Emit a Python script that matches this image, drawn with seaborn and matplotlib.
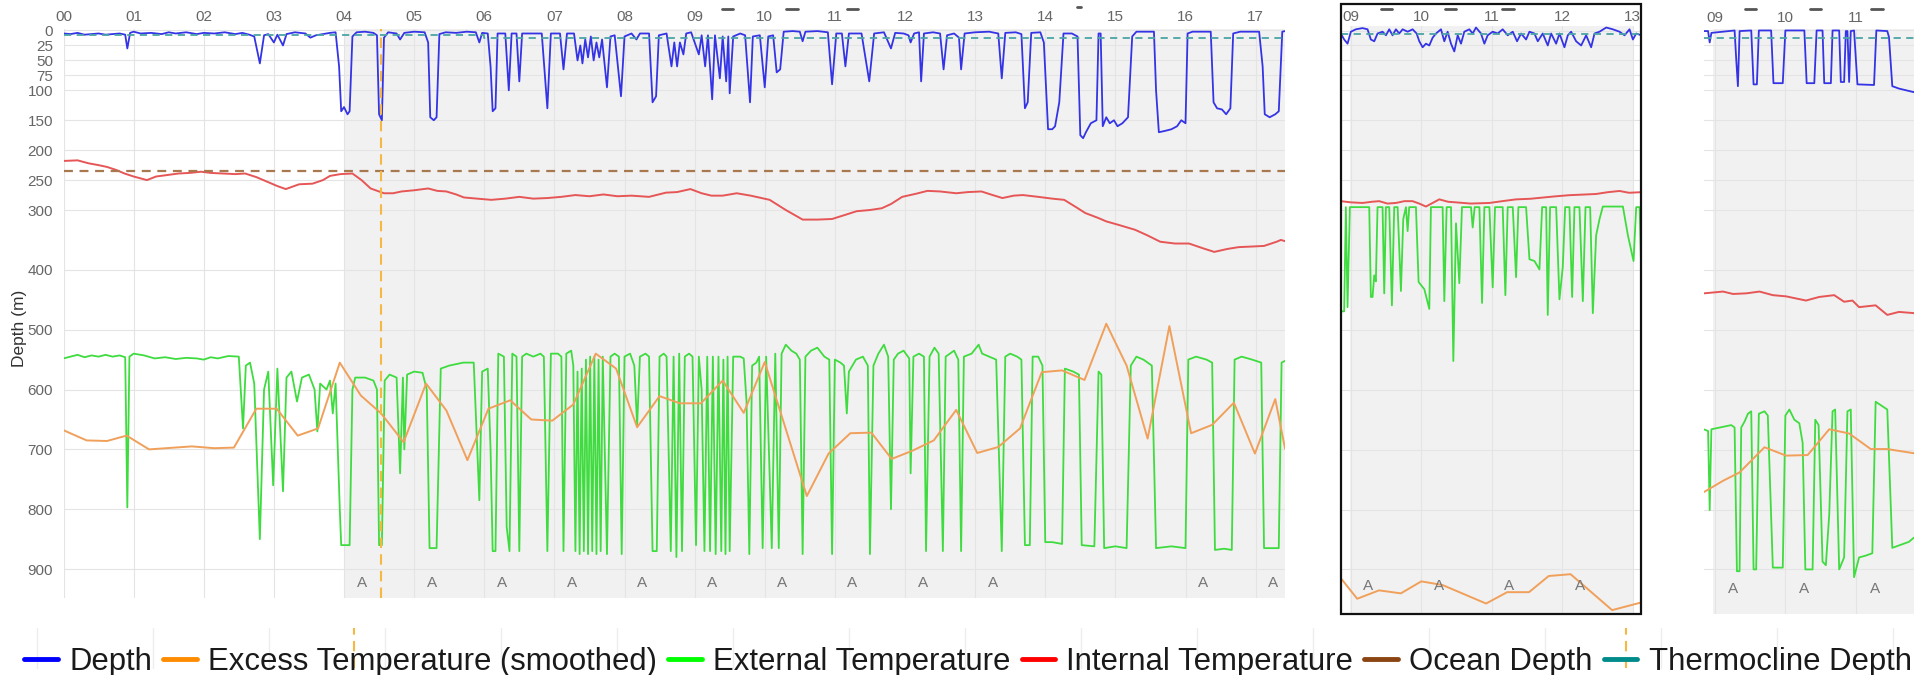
import matplotlib
matplotlib.use('Agg')
import matplotlib.pyplot as plt
import matplotlib.transforms as mtransforms
from matplotlib.lines import Line2D
from matplotlib.patches import Rectangle
import seaborn as sns

sns.set_style('white')
plt.rcParams['font.family'] = ['Liberation Sans', 'DejaVu Sans']

#%% Data (x = hour of day, y = value on the depth scale in m)
depth_ticks = [0, 25, 50, 75, 100, 150, 200, 250, 300, 400, 500, 600, 700, 800, 900]

# main panel
main_depth = [
    (0.00, 5), (0.10, 6), (0.20, 4), (0.30, 7), (0.40, 6), (0.50, 5), (0.60, 7), (0.70, 6),
    (0.80, 5), (0.88, 7), (0.91, 30), (0.95, 4), (1.00, 2), (1.10, 5), (1.25, 4), (1.40, 6),
    (1.50, 3), (1.60, 5), (1.75, 3), (1.90, 6), (2.00, 4), (2.15, 5), (2.30, 3), (2.45, 6),
    (2.55, 4), (2.65, 7), (2.72, 10), (2.80, 55), (2.86, 8), (2.92, 6), (3.00, 20), (3.05, 7),
    (3.13, 25), (3.18, 6), (3.30, 3), (3.45, 5), (3.52, 12), (3.60, 8), (3.70, 6), (3.80, 4),
    (3.88, 3), (3.93, 60), (3.96, 135), (4.00, 128), (4.05, 140), (4.08, 135), (4.12, 10),
    (4.18, 3), (4.30, 2), (4.42, 4), (4.47, 8), (4.50, 140), (4.54, 150), (4.57, 12), (4.63, 3),
    (4.75, 5), (4.80, 15), (4.86, 4), (5.00, 2), (5.15, 3), (5.20, 20), (5.23, 145), (5.28, 150),
    (5.32, 145), (5.36, 6), (5.45, 3), (5.60, 4), (5.75, 2), (5.88, 3), (5.93, 20), (5.97, 4),
    (6.05, 5), (6.09, 60), (6.12, 135), (6.16, 130), (6.19, 5), (6.30, 5), (6.35, 100), (6.39, 5),
    (6.46, 5), (6.50, 85), (6.54, 5), (6.70, 5), (6.82, 5), (6.90, 130), (6.95, 5), (7.08, 5),
    (7.13, 65), (7.18, 5), (7.28, 5), (7.33, 50), (7.37, 25), (7.40, 55), (7.44, 15), (7.48, 45),
    (7.52, 10), (7.56, 50), (7.60, 20), (7.64, 45), (7.68, 15), (7.75, 95), (7.80, 10), (7.86, 8),
    (7.95, 110), (8.00, 10), (8.10, 5), (8.17, 15), (8.22, 5), (8.35, 5), (8.40, 120), (8.45, 110),
    (8.49, 8), (8.60, 5), (8.67, 60), (8.71, 20), (8.75, 60), (8.79, 20), (8.84, 40), (8.88, 5),
    (8.95, 3), (9.06, 40), (9.10, 8), (9.15, 60), (9.19, 8), (9.25, 115), (9.29, 8), (9.36, 80),
    (9.40, 10), (9.45, 85), (9.48, 10), (9.50, 105), (9.55, 10), (9.65, 5), (9.72, 8), (9.79, 120),
    (9.83, 10), (9.93, 8), (10.00, 95), (10.05, 10), (10.12, 8), (10.17, 70), (10.22, 65),
    (10.27, 2), (10.40, 1), (10.50, 2), (10.54, 18), (10.58, 2), (10.75, 1), (10.90, 3),
    (10.96, 90), (11.02, 5), (11.10, 5), (11.15, 60), (11.20, 5), (11.38, 5), (11.49, 85),
    (11.56, 5), (11.70, 3), (11.80, 30), (11.86, 4), (11.98, 5), (12.05, 8), (12.08, 20),
    (12.13, 5), (12.20, 3), (12.23, 85), (12.27, 5), (12.40, 3), (12.50, 5), (12.55, 65),
    (12.60, 8), (12.70, 5), (12.77, 12), (12.80, 65), (12.85, 5), (13.00, 3), (13.20, 2),
    (13.33, 5), (13.38, 80), (13.43, 4), (13.58, 3), (13.66, 6), (13.71, 130), (13.75, 120),
    (13.80, 4), (13.93, 3), (13.98, 20), (14.04, 165), (14.10, 165), (14.14, 160), (14.20, 120),
    (14.26, 5), (14.38, 5), (14.46, 10), (14.50, 175), (14.54, 180), (14.58, 170), (14.65, 155),
    (14.73, 150), (14.76, 5), (14.79, 5), (14.82, 160), (14.87, 145), (14.92, 155), (14.98, 150),
    (15.03, 160), (15.10, 155), (15.18, 145), (15.24, 10), (15.30, 2), (15.55, 2), (15.58, 100),
    (15.62, 170), (15.70, 168), (15.80, 165), (15.88, 160), (15.94, 150), (16.00, 155),
    (16.03, 5), (16.10, 2), (16.36, 2), (16.40, 120), (16.45, 130), (16.52, 132), (16.58, 140),
    (16.64, 130), (16.68, 5), (16.78, 2), (17.05, 2), (17.10, 60), (17.13, 140), (17.20, 145),
    (17.28, 140), (17.33, 135), (17.38, 2), (17.42, 1),
]
main_external = [
    (0.00, 548), (0.10, 545), (0.20, 542), (0.30, 546), (0.40, 543), (0.50, 545), (0.60, 542),
    (0.70, 545), (0.80, 543), (0.88, 546), (0.91, 797), (0.94, 545), (1.00, 540), (1.15, 543),
    (1.30, 548), (1.45, 546), (1.60, 549), (1.75, 547), (1.90, 548), (2.00, 550), (2.10, 546),
    (2.20, 548), (2.35, 544), (2.50, 545), (2.56, 665), (2.60, 560), (2.66, 555), (2.72, 590),
    (2.80, 850), (2.86, 600), (2.92, 570), (2.99, 760), (3.05, 565), (3.13, 770), (3.18, 580),
    (3.25, 570), (3.33, 620), (3.40, 580), (3.50, 575), (3.58, 600), (3.62, 670), (3.66, 590),
    (3.75, 600), (3.80, 585), (3.84, 640), (3.88, 590), (3.94, 800), (3.96, 860), (4.08, 860),
    (4.12, 600), (4.16, 580), (4.30, 580), (4.42, 585), (4.47, 600), (4.50, 860), (4.54, 860),
    (4.58, 585), (4.65, 575), (4.75, 580), (4.80, 740), (4.84, 580), (4.86, 700), (4.90, 575),
    (5.00, 570), (5.12, 572), (5.18, 600), (5.22, 865), (5.32, 865), (5.38, 565), (5.50, 560),
    (5.70, 555), (5.85, 555), (5.93, 785), (5.97, 570), (6.05, 565), (6.09, 700), (6.12, 870),
    (6.16, 870), (6.20, 540), (6.28, 545), (6.32, 830), (6.36, 870), (6.40, 540), (6.46, 545),
    (6.50, 870), (6.54, 545), (6.60, 540), (6.70, 545), (6.80, 540), (6.85, 545), (6.90, 870),
    (6.95, 540), (7.05, 540), (7.10, 545), (7.13, 870), (7.17, 540), (7.24, 535), (7.27, 560),
    (7.30, 870), (7.33, 570), (7.36, 875), (7.39, 565), (7.42, 870), (7.45, 550), (7.48, 875),
    (7.51, 545), (7.54, 870), (7.57, 545), (7.60, 875), (7.63, 550), (7.66, 870), (7.69, 545),
    (7.75, 875), (7.80, 545), (7.86, 540), (7.92, 545), (7.96, 875), (8.00, 545), (8.08, 540),
    (8.14, 560), (8.18, 660), (8.22, 545), (8.30, 540), (8.35, 545), (8.40, 870), (8.46, 870),
    (8.50, 545), (8.56, 540), (8.60, 545), (8.66, 870), (8.70, 545), (8.74, 880), (8.78, 540),
    (8.82, 870), (8.86, 545), (8.92, 540), (8.97, 545), (9.02, 860), (9.06, 545), (9.10, 600),
    (9.14, 870), (9.18, 545), (9.22, 870), (9.26, 545), (9.30, 875), (9.34, 545), (9.38, 870),
    (9.41, 550), (9.44, 875), (9.47, 545), (9.50, 870), (9.55, 545), (9.65, 545), (9.70, 548),
    (9.74, 620), (9.78, 875), (9.82, 560), (9.88, 555), (9.92, 545), (9.97, 865), (10.02, 545),
    (10.10, 865), (10.15, 540), (10.20, 865), (10.24, 540), (10.30, 525), (10.38, 535),
    (10.45, 540), (10.50, 550), (10.54, 875), (10.58, 545), (10.66, 535), (10.75, 530),
    (10.85, 545), (10.92, 550), (10.96, 875), (11.00, 550), (11.08, 555), (11.13, 560),
    (11.17, 640), (11.20, 570), (11.30, 550), (11.40, 545), (11.47, 560), (11.50, 875),
    (11.55, 560), (11.62, 540), (11.70, 525), (11.76, 545), (11.80, 800), (11.84, 550),
    (11.90, 540), (11.98, 535), (12.06, 548), (12.08, 740), (12.12, 545), (12.20, 540),
    (12.27, 545), (12.30, 870), (12.35, 545), (12.42, 530), (12.48, 540), (12.54, 870),
    (12.58, 545), (12.70, 535), (12.76, 550), (12.80, 870), (12.84, 545), (12.95, 540),
    (13.05, 525), (13.10, 540), (13.20, 545), (13.30, 550), (13.38, 870), (13.43, 545),
    (13.50, 540), (13.60, 545), (13.66, 550), (13.71, 860), (13.78, 860), (13.82, 545),
    (13.90, 545), (13.96, 560), (14.00, 855), (14.10, 855), (14.24, 858), (14.28, 565),
    (14.40, 570), (14.48, 575), (14.52, 860), (14.70, 862), (14.76, 570), (14.80, 575),
    (14.84, 865), (15.00, 862), (15.16, 865), (15.22, 560), (15.30, 545), (15.40, 550),
    (15.52, 560), (15.58, 865), (15.80, 862), (16.00, 865), (16.04, 550), (16.15, 545),
    (16.30, 550), (16.38, 555), (16.42, 868), (16.55, 866), (16.66, 868), (16.70, 550),
    (16.80, 545), (16.95, 550), (17.08, 555), (17.12, 865), (17.25, 865), (17.33, 865),
    (17.37, 555), (17.42, 552),
]
main_internal = [
    (0.0, 218), (0.2, 217), (0.36, 222), (0.5, 225), (0.62, 228), (0.75, 233), (0.87, 239),
    (1.0, 244), (1.19, 250), (1.32, 244), (1.45, 242), (1.64, 239), (1.8, 238), (1.96, 236),
    (2.1, 238), (2.27, 239), (2.45, 240), (2.59, 239), (2.75, 245), (2.91, 253), (3.05, 260),
    (3.17, 265), (3.36, 257), (3.55, 256), (3.7, 250), (3.8, 243), (3.95, 240), (4.12, 239),
    (4.25, 250), (4.38, 264), (4.57, 272), (4.7, 272), (4.82, 269), (5.0, 267), (5.2, 264),
    (5.33, 268), (5.46, 269), (5.6, 274), (5.71, 279), (5.9, 281), (6.1, 283), (6.3, 281),
    (6.5, 278), (6.7, 281), (6.9, 280), (7.1, 278), (7.3, 275), (7.5, 277), (7.7, 274),
    (7.9, 277), (8.1, 276), (8.35, 278), (8.59, 271), (8.75, 270), (8.94, 265), (9.1, 272),
    (9.24, 276), (9.4, 276), (9.6, 272), (9.8, 276), (10.07, 283), (10.3, 300), (10.54, 316),
    (10.75, 316), (10.96, 315), (11.15, 308), (11.31, 302), (11.5, 300), (11.67, 297),
    (11.8, 290), (11.96, 278), (12.15, 273), (12.32, 268), (12.5, 269), (12.73, 272),
    (12.9, 270), (13.09, 269), (13.25, 275), (13.39, 280), (13.55, 276), (13.68, 275),
    (13.9, 278), (14.1, 281), (14.27, 283), (14.45, 296), (14.57, 305), (14.75, 313),
    (14.87, 319), (15.05, 325), (15.28, 333), (15.45, 342), (15.64, 353), (15.85, 356),
    (16.05, 356), (16.25, 364), (16.41, 370), (16.6, 365), (16.76, 362), (16.95, 361),
    (17.12, 360), (17.3, 353), (17.36, 350), (17.42, 352),
]
main_excess = [
    (0.0, 668), (0.33, 685), (0.62, 686), (0.9, 677), (1.22, 700), (1.83, 695), (2.15, 698),
    (2.43, 697), (2.75, 632), (3.04, 632), (3.34, 677), (3.63, 665), (3.94, 555), (4.24, 610),
    (4.53, 640), (4.85, 688), (5.17, 590), (5.46, 635), (5.76, 718), (6.06, 632), (6.37, 618),
    (6.67, 650), (6.97, 652), (7.27, 625), (7.59, 540), (7.88, 565), (8.18, 663), (8.5, 611),
    (8.79, 623), (9.09, 623), (9.4, 585), (9.7, 639), (10.0, 554), (10.6, 778), (10.91, 707),
    (11.22, 673), (11.52, 672), (11.81, 716), (12.11, 702), (12.41, 685), (12.73, 634),
    (13.03, 706), (13.33, 696), (13.64, 665), (13.95, 571), (14.24, 568), (14.56, 584),
    (14.87, 490), (15.16, 560), (15.46, 682), (15.77, 494), (16.08, 673), (16.38, 659),
    (16.69, 622), (16.99, 707), (17.28, 616), (17.42, 699),
]
main_thermocline = [(0.0, 7), (6.0, 7), (6.0, 12), (17.42, 12)]
main_ocean = [(0.0, 235), (17.42, 235)]
main_event_hour = 4.53
main_shade_start = 4.0
main_a_hours = [4.25, 5.25, 6.25, 7.25, 8.25, 9.25, 10.25, 11.25, 12.25, 13.25, 16.25, 17.25]

# middle (framed) panel
mid_depth = [
    (8.858, 5), (8.905, 15), (8.953, 22), (9.0, 2), (9.071, -2), (9.166, -4), (9.237, -2),
    (9.284, 15), (9.332, 18), (9.379, 5), (9.45, 2), (9.498, 8), (9.545, -2), (9.592, 8),
    (9.64, -2), (9.687, 5), (9.735, -2), (9.806, 2), (9.877, -2), (9.934, 5), (9.972, 18),
    (10.019, 28), (10.066, 22), (10.114, 25), (10.161, 12), (10.209, 5), (10.28, -2),
    (10.327, 18), (10.374, 2), (10.422, 22), (10.469, 35), (10.517, 8), (10.564, 22),
    (10.611, 2), (10.682, -2), (10.73, 5), (10.777, -5), (10.848, 5), (10.896, 22),
    (10.943, 8), (11.014, 2), (11.085, 5), (11.156, -2), (11.227, 8), (11.299, 2),
    (11.36, 18), (11.417, 5), (11.488, 15), (11.536, 2), (11.607, 5), (11.654, 18),
    (11.725, 5), (11.796, 25), (11.844, 5), (11.915, 22), (11.962, 5), (12.033, 28),
    (12.081, 8), (12.128, 2), (12.199, 18), (12.27, 25), (12.341, 8), (12.412, 28),
    (12.46, 5), (12.531, 2), (12.626, -5), (12.72, -2), (12.815, 2), (12.886, 8),
    (12.957, -2), (13.005, 15), (13.052, 5), (13.123, 8),
]
mid_external = [
    (8.858, 469), (8.905, 469), (8.929, 295), (8.953, 462), (8.986, 295), (9.261, 295),
    (9.284, 445), (9.308, 445), (9.332, 409), (9.355, 419), (9.379, 295), (9.45, 295),
    (9.474, 439), (9.498, 295), (9.545, 295), (9.583, 459), (9.616, 295), (9.664, 295),
    (9.711, 435), (9.744, 315), (9.782, 295), (9.806, 335), (9.829, 295), (9.924, 295),
    (9.962, 420), (10.043, 432), (10.114, 465), (10.137, 295), (10.303, 295), (10.327, 452),
    (10.36, 295), (10.422, 295), (10.455, 552), (10.493, 322), (10.54, 422), (10.578, 295),
    (10.706, 295), (10.73, 329), (10.758, 295), (10.825, 295), (10.863, 455), (10.896, 295),
    (10.967, 295), (11.014, 429), (11.047, 295), (11.156, 295), (11.194, 442), (11.227, 295),
    (11.299, 295), (11.346, 412), (11.379, 295), (11.488, 295), (11.536, 382), (11.607, 385),
    (11.678, 399), (11.716, 295), (11.773, 295), (11.796, 475), (11.829, 295), (11.915, 295),
    (11.962, 449), (12.009, 395), (12.043, 295), (12.104, 295), (12.142, 445), (12.175, 295),
    (12.246, 295), (12.294, 452), (12.332, 295), (12.398, 295), (12.436, 472), (12.483, 342),
    (12.531, 315), (12.578, 294), (12.863, 294), (12.934, 342), (13.014, 385), (13.052, 295),
    (13.1, 295), (13.123, 402),
]
mid_internal = [
    (8.858, 285), (9.0, 287), (9.166, 288), (9.3, 286), (9.403, 285), (9.52, 289), (9.64, 288),
    (9.76, 285), (9.877, 285), (9.97, 289), (10.066, 294), (10.256, 282), (10.38, 286),
    (10.493, 287), (10.7, 289), (10.967, 288), (11.15, 285), (11.346, 282), (11.55, 281),
    (11.725, 279), (11.9, 277), (12.104, 275), (12.3, 274), (12.483, 273), (12.65, 270),
    (12.815, 268), (12.95, 271), (13.123, 270),
]
mid_excess = [
    (8.86, 915), (9.09, 949), (9.4, 935), (9.71, 940), (10.0, 920), (10.3, 926), (10.92, 957),
    (11.22, 938), (11.53, 938), (11.81, 911), (12.12, 908), (12.71, 968), (13.13, 955),
]
mid_thermocline = [(8.86, 6), (13.12, 6)]
mid_shade = (8.99, 13.0)
mid_a_hours = [9.25, 10.25, 11.25, 12.25]

# right (cut-off) panel
right_depth = [
    (8.845, 1), (8.906, 1), (8.929, 20), (8.953, 4), (9.282, 0), (9.306, 50), (9.329, 93),
    (9.353, 1), (9.518, 0), (9.551, 90), (9.598, 90), (9.626, 0), (9.8, 0), (9.833, 88),
    (9.965, 88), (10.002, 0), (10.271, 0), (10.304, 88), (10.412, 88), (10.445, 0),
    (10.529, 0), (10.553, 88), (10.647, 88), (10.671, 0), (10.765, 0), (10.788, 86),
    (10.835, 86), (10.859, 1), (10.882, 1), (10.906, 86), (10.929, 1), (10.976, 0),
    (11.024, 90), (11.259, 91), (11.292, 0), (11.447, 1), (11.471, 11), (11.518, 93),
    (11.612, 97), (11.824, 103), (11.86, 104),
]
right_external = [
    (8.845, 666), (8.906, 669), (8.929, 801), (8.953, 666), (9.235, 659), (9.282, 663),
    (9.315, 903), (9.353, 903), (9.376, 663), (9.424, 653), (9.471, 640), (9.518, 636),
    (9.551, 900), (9.588, 900), (9.626, 640), (9.706, 636), (9.753, 643), (9.824, 897),
    (9.965, 897), (10.002, 643), (10.059, 633), (10.129, 650), (10.2, 656), (10.247, 689),
    (10.285, 900), (10.388, 900), (10.426, 650), (10.473, 659), (10.529, 887), (10.576, 893),
    (10.624, 808), (10.671, 636), (10.708, 633), (10.765, 900), (10.835, 880), (10.882, 636),
    (10.929, 633), (10.976, 913), (11.047, 880), (11.141, 877), (11.235, 873), (11.282, 620),
    (11.447, 633), (11.518, 864), (11.753, 854), (11.824, 847), (11.86, 846),
]
right_internal = [
    (8.845, 439), (9.118, 436), (9.259, 440), (9.447, 439), (9.635, 436), (9.824, 442),
    (10.012, 444), (10.294, 451), (10.482, 445), (10.694, 442), (10.835, 453), (10.953, 451),
    (11.047, 462), (11.282, 459), (11.447, 475), (11.612, 470), (11.824, 472), (11.86, 472),
]
right_excess = [
    (8.845, 771), (9.118, 752), (9.353, 738), (9.706, 696), (10.012, 710), (10.318, 709),
    (10.624, 666), (10.906, 673), (11.212, 699), (11.447, 699), (11.824, 706), (11.86, 706),
]
right_thermocline = [(8.845, 13), (11.86, 13)]
right_shade_start = 8.98
right_a_hours = [9.26, 10.26, 11.27]

legend_labels = ['Depth', 'Excess Temperature (smoothed)', 'External Temperature',
                 'Internal Temperature', 'Ocean Depth', 'Thermocline Depth']
legend_colors = ['#0000ff', '#ff8c00', '#00ff00', '#ff0000', '#8b4513', '#008b8b']

# stray marks from the screenshot
main_top_marks = [9.47, 10.39, 11.25]
mid_top_marks = [9.51, 10.41, 11.23]
right_top_marks = [9.51, 10.43, 11.30]

#%% Styling
C_DEPTH = '#3434e6'
C_EXT = '#3fdc3f'
C_INT = '#e65656'
C_EXC = '#f0a05a'
C_THERMO = '#4aa5a5'
C_OCEAN = '#a8784f'
GRID = '#e4e4e4'
SHADE = '#f1f1f1'
TICK = '#666666'


def draw(ax, pts, color, lw=1.3, alpha=1.0, ls='-'):
    xs = [p[0] for p in pts]
    ys = [p[1] for p in pts]
    sns.lineplot(x=xs, y=ys, ax=ax, color=color, lw=lw, alpha=alpha, linestyle=ls,
                 estimator=None, sort=False, legend=False)


def style_axes(ax, xlim, ylim, hours, labelleft=False, pad=4):
    ax.set_xlim(*xlim)
    ax.set_ylim(*ylim)
    ax.xaxis.tick_top()
    ax.set_xticks(hours)
    ax.set_xticklabels(['%02d' % h for h in hours])
    ax.set_yticks(depth_ticks)
    ax.set_yticklabels([str(t) for t in depth_ticks])
    ax.tick_params(axis='both', length=0, colors=TICK, labelsize=11)
    ax.tick_params(axis='x', pad=pad)
    ax.tick_params(axis='y', pad=7.5, labelleft=labelleft)
    ax.set_axisbelow(True)
    ax.grid(True, color=GRID, lw=0.8)
    for s in ax.spines.values():
        s.set_visible(False)
    ax.set_xlabel('')
    ax.set_ylabel('')


def top_marks(ax, hours, yfrac, half=0.08):
    tr = mtransforms.blended_transform_factory(ax.transData, ax.transAxes)
    for h in hours:
        ax.plot([h - half, h + half], [yfrac, yfrac], color='#555555', lw=2,
                transform=tr, clip_on=False)


fig = plt.figure(figsize=(19.15, 6.75), dpi=100)
fig.patch.set_facecolor('white')

#%% Main panel
ax = fig.add_axes([0.03316, 0.1135, 0.6379, 0.8431])
ax.axvspan(main_shade_start, 17.42, color=SHADE, zorder=0, lw=0)
draw(ax, main_external, C_EXT, lw=1.3)
draw(ax, main_excess, C_EXC, lw=1.4)
draw(ax, main_internal, C_INT, lw=1.4)
draw(ax, main_depth, C_DEPTH, lw=1.3)
draw(ax, main_ocean, C_OCEAN, lw=1.6, ls=(0, (4, 3)))
draw(ax, main_thermocline, C_THERMO, lw=1.3, ls=(0, (4, 3)))
ax.axvline(main_event_hour, color='#f5b942', lw=1.5, ls=(0, (5, 3)))
for h in main_a_hours:
    ax.text(h, 924, 'A', ha='center', va='center', color='#777777', fontsize=11)
style_axes(ax, (0, 17.42), (949, -2), list(range(0, 18)), labelleft=True, pad=4)
ax.set_ylabel('Depth (m)', fontsize=12.5, color='#333333')
ax.yaxis.set_label_coords(-0.030, 0.475)
top_marks(ax, main_top_marks, 1.0357)
top_marks(ax, [14.48], 1.04, half=0.03)

#%% Middle panel
axm = fig.add_axes([0.70026, 0.0899, 0.15666, 0.8720])
axm.axvspan(mid_shade[0], mid_shade[1], color=SHADE, zorder=0, lw=0)
draw(axm, mid_external, C_EXT, lw=1.3)
draw(axm, mid_excess, C_EXC, lw=1.4)
draw(axm, mid_internal, C_INT, lw=1.4)
draw(axm, mid_depth, C_DEPTH, lw=1.3)
draw(axm, mid_thermocline, C_THERMO, lw=1.3, ls=(0, (4, 3)))
for h in mid_a_hours:
    axm.text(h, 927, 'A', ha='center', va='center', color='#777777', fontsize=11)
style_axes(axm, (8.86, 13.12), (975, -8), [9, 10, 11, 12, 13], pad=1)
top_marks(axm, mid_top_marks, 1.0284)
fig.add_artist(Rectangle((0.70026, 0.0899), 0.15666, 0.9046, transform=fig.transFigure,
                         fill=False, ec='#111111', lw=1.6))

#%% Right panel
axr = fig.add_axes([0.8897, 0.0899, 0.1103, 0.8676])
axr.axvspan(right_shade_start, 11.84, color=SHADE, zorder=0, lw=0)
draw(axr, right_external, C_EXT, lw=1.3)
draw(axr, right_excess, C_EXC, lw=1.4)
draw(axr, right_internal, C_INT, lw=1.4)
draw(axr, right_depth, C_DEPTH, lw=1.3)
draw(axr, right_thermocline, C_THERMO, lw=1.3, ls=(0, (4, 3)))
for h in right_a_hours:
    axr.text(h, 933, 'A', ha='center', va='center', color='#777777', fontsize=11)
style_axes(axr, (8.845, 11.84), (975, -3), [9, 10, 11], pad=3)
top_marks(axr, right_top_marks, 1.0336)

#%% Legend row
for k in range(17):
    x = (37 + 116 * k) / 1915
    fig.add_artist(Line2D([x, x], [0.0104, 0.0696], transform=fig.transFigure,
                          color='#eeeeee', lw=1))
for x in [354 / 1915, 1626 / 1915]:
    fig.add_artist(Line2D([x, x], [0.0104, 0.0696], transform=fig.transFigure,
                          color='#f5b942', lw=1.5, ls=(0, (5, 3))))

handles = [Line2D([0], [0], color=c, lw=3.5) for c in legend_colors]
fig.legend(handles, legend_labels, loc='center', bbox_to_anchor=(0.5055, 0.019), ncol=6,
           frameon=False, fontsize=22.4, handlelength=1.08, handletextpad=0.36,
           columnspacing=0.36, borderpad=0, borderaxespad=0, labelcolor='#1a1a1a')

fig.savefig('out.png', dpi=100, facecolor='white')
